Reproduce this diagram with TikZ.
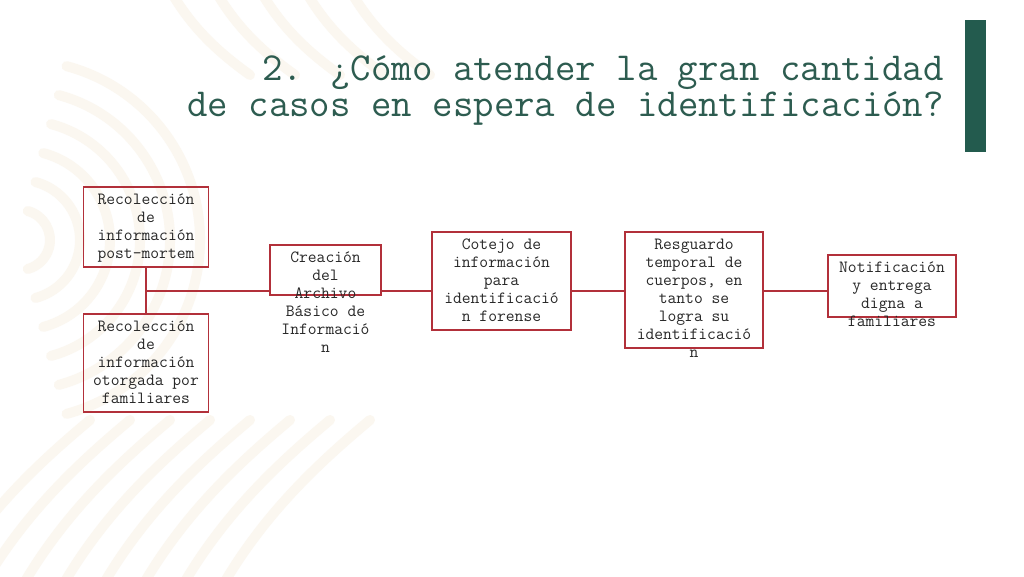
\documentclass[tikz,border=0pt]{standalone}
\usepackage{fontspec}
\definecolor{boxred}{RGB}{178,48,58}
\definecolor{titlegreen}{RGB}{45,92,80}
\definecolor{bargreen}{RGB}{35,91,78}
\definecolor{txtgray}{RGB}{40,40,40}
\definecolor{beige}{RGB}{251,247,240}
\tikzset{
  box/.style={draw=boxred, line width=1.1pt, fill=none, inner sep=0pt},
  txt/.style={anchor=north, align=center, inner sep=0pt, text=txtgray,
    font=\ttfamily\fontsize{17.1}{18}\selectfont},
  link/.style={draw=boxred, line width=1.1pt},
  title/.style={anchor=base east, inner sep=0pt, text=titlegreen,
    font=\ttfamily\fontsize{39.7}{36}\selectfont},
  deco/.style={draw=beige, line width=10pt, line cap=round}
}
\begin{document}
\begin{tikzpicture}[x=1pt,y=-1pt]
\useasboundingbox (0,0) rectangle (1024,576);
\fill[white] (0,0) rectangle (1024,576);
% faint background ornament
\begin{scope}
\clip (0,0) rectangle (1024,576);
\foreach \r in {30,60,...,180} {
  \draw[deco] (20,240) ++(-75:\r) arc[start angle=-75, end angle=75, radius=\r];
}
\foreach \s in {-60,-20,...,220} {
  \draw[deco] (\s,590) .. controls (\s+40,520) and (\s+90,470) .. (\s+150,420);
}
\foreach \s in {170,215,...,350} {
  \draw[deco] (\s,-10) .. controls (\s+20,25) and (\s+45,50) .. (\s+80,75);
}
\end{scope}
% green bar
\fill[bargreen] (965,20) rectangle (986,152);
% title
\node[title] (t1) at (944,80) {2. ¿Cómo atender la gran cantidad};
\node[title] (t2) at (944,116) {de casos en espera de identificación?};
% boxes
\node[box, minimum width=125, minimum height=80] (a) at (146,227) {};
\node[txt] (at) at ([yshift=-7]a.north) {Recolección\\de\\información\\post-mortem};
\node[box, minimum width=125, minimum height=98] (b) at (146,363) {};
\node[txt] (bt) at ([yshift=-7]b.north) {Recolección\\de\\información\\otorgada por\\familiares};
\node[box, minimum width=111, minimum height=50] (c) at (325.5,270) {};
\node[txt] (ct) at ([yshift=-7]c.north) {Creación\\del\\Archivo\\Básico de\\Informació\\n};
\node[box, minimum width=139, minimum height=98] (d) at (501.5,281) {};
\node[txt] (dt) at ([yshift=-7]d.north) {Cotejo de\\información\\para\\identificació\\n forense};
\node[box, minimum width=138, minimum height=116] (e) at (694,290) {};
\node[txt] (et) at ([yshift=-7]e.north) {Resguardo\\temporal de\\cuerpos, en\\tanto se\\logra su\\identificació\\n};
\node[box, minimum width=128, minimum height=62] (f) at (892,286) {};
\node[txt] (ft) at ([yshift=-7]f.north) {Notificación\\y entrega\\digna a\\familiares};
% connectors
\coordinate (j) at (a.south |- 0,291);
\draw[link] (a.south) -- (b.north);
\draw[link] (j) -- (j -| c.west);
\draw[link] (c.east |- 0,291) -- (d.west |- 0,291);
\draw[link] (d.east |- 0,291) -- (e.west |- 0,291);
\draw[link] (e.east |- 0,291) -- (f.west |- 0,291);
\end{tikzpicture}
\end{document}
